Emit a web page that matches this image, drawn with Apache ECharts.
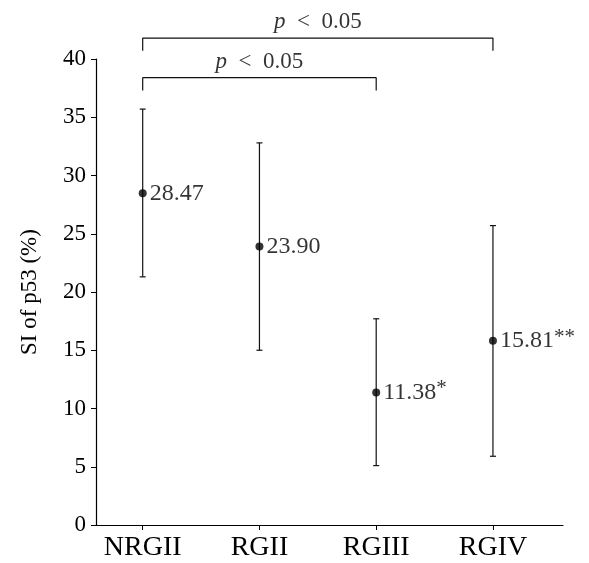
<!DOCTYPE html>
<html>
<head>
<meta charset="utf-8">
<script src="https://cdn.jsdelivr.net/npm/echarts@6/dist/echarts.min.js"></script>
<style>
  html, body { margin: 0; padding: 0; background: #fff; }
  #chart { width: 589px; height: 563px; }
</style>
</head>
<body>
<div id="chart"></div>
<script>
// groups on the x axis
var groups = ['NRGII', 'RGII', 'RGIII', 'RGIV'];
// mean SI of p53 (%) and error bar ends
var means = [28.47, 23.90, 11.38, 15.81];
var lows = [21.3, 15.0, 5.1, 5.9];
var highs = [35.7, 32.8, 17.7, 25.7];
// significance marks next to the values
var marks = ['', '', '*', '**'];
// significance brackets: [from group, to group, text]
var brackets = [[0, 2, 'p < 0.05'], [0, 3, 'p < 0.05']];
var yTicks = [0, 5, 10, 15, 20, 25, 30, 35, 40];

var FONT = '"Liberation Serif", "DejaVu Serif", serif';
var INK = '#000';

var chart = echarts.init(document.getElementById('chart'));

// bracket levels (layout, in axis units)
var bracketLevel = [38.4, 41.8];
var bracketDrop = 1.1;
var bracketTextGap = 1.35;

var pos = groups.map(function (g, i) { return i + 1; });

var barData = groups.map(function (g, i) { return [pos[i], lows[i], highs[i]]; });
var pointData = groups.map(function (g, i) { return [pos[i], means[i]]; });

var bracketSeries = brackets.map(function (b, k) {
    var y = bracketLevel[k];
    return {
        type: 'line',
        clip: false,
        silent: true,
        symbol: 'none',
        lineStyle: {color: '#111', width: 1.2},
        data: [[pos[b[0]], y - bracketDrop], [pos[b[0]], y], [pos[b[1]], y], [pos[b[1]], y - bracketDrop]],
        z: 3
    };
});

var bracketText = {
    type: 'scatter',
    clip: false,
    silent: true,
    symbolSize: 1,
    itemStyle: {color: 'rgba(0,0,0,0)'},
    label: {
        show: true,
        position: 'inside',
        formatter: function (p) {
            var t = brackets[p.dataIndex][2];
            return '{i|' + t.charAt(0) + '}{n|' + t.slice(1).replace('<', ' < ') + '}';
        },
        rich: {
            i: {fontFamily: FONT, fontSize: 23, fontStyle: 'italic', color: INK},
            n: {fontFamily: FONT, fontSize: 23, color: INK}
        }
    },
    data: brackets.map(function (b, k) {
        return [(pos[b[0]] + pos[b[1]]) / 2, bracketLevel[k] + bracketTextGap];
    })
};

var option = {
    animation: false,
    backgroundColor: '#fff',
    grid: {left: 96, right: 26, top: 59, bottom: 38, containLabel: false},
    xAxis: {
        type: 'value',
        min: 0.6,
        max: 4.6,
        axisLine: {show: true, onZero: false, lineStyle: {color: INK, width: 1.2}},
        axisTick: {show: true, customValues: pos, length: 5, lineStyle: {color: INK}},
        splitLine: {show: false},
        axisLabel: {
            customValues: pos,
            margin: 9,
            fontFamily: FONT,
            fontSize: 28,
            color: INK,
            formatter: function (v) { return groups[Math.round(v) - 1] || ''; }
        }
    },
    yAxis: {
        type: 'value',
        min: 0,
        max: 40,
        interval: 5,
        name: 'SI of p53 (%)',
        nameLocation: 'middle',
        nameGap: 55,
        nameTextStyle: {fontFamily: FONT, fontSize: 23, color: INK},
        axisLine: {show: true, lineStyle: {color: INK, width: 1.2}},
        axisTick: {show: true, length: 5, lineStyle: {color: INK}},
        splitLine: {show: false},
        axisLabel: {
            margin: 10,
            fontFamily: FONT,
            fontSize: 23,
            color: INK,
            customValues: yTicks
        }
    },
    series: [
        {
            // error bars
            type: 'custom',
            silent: true,
            encode: {x: 0, y: [1, 2]},
            renderItem: function (params, api) {
                var x = api.value(0);
                var top = api.coord([x, api.value(2)]);
                var bot = api.coord([x, api.value(1)]);
                var cap = 3;
                var style = {stroke: '#111', lineWidth: 1.2};
                return {
                    type: 'group',
                    children: [
                        {type: 'line', shape: {x1: top[0], y1: top[1], x2: bot[0], y2: bot[1]}, style: style},
                        {type: 'line', shape: {x1: top[0] - cap, y1: top[1], x2: top[0] + cap, y2: top[1]}, style: style},
                        {type: 'line', shape: {x1: bot[0] - cap, y1: bot[1], x2: bot[0] + cap, y2: bot[1]}, style: style}
                    ]
                };
            },
            data: barData,
            z: 2
        },
        {
            // means
            type: 'scatter',
            symbol: 'circle',
            symbolSize: 8,
            itemStyle: {color: '#000'},
            label: {
                show: true,
                position: 'right',
                distance: 3,
                formatter: function (p) {
                    var s = means[p.dataIndex].toFixed(2);
                    var m = marks[p.dataIndex];
                    return '{v|' + s + '}' + (m ? '{s|' + m + '}' : '');
                },
                rich: {
                    v: {fontFamily: FONT, fontSize: 24, color: INK, lineHeight: 28},
                    s: {fontFamily: FONT, fontSize: 21, color: INK, lineHeight: 18, verticalAlign: 'top'}
                }
            },
            data: pointData,
            z: 4
        },
        bracketText
    ].concat(bracketSeries)
};

chart.setOption(option);
</script>
</body>
</html>
